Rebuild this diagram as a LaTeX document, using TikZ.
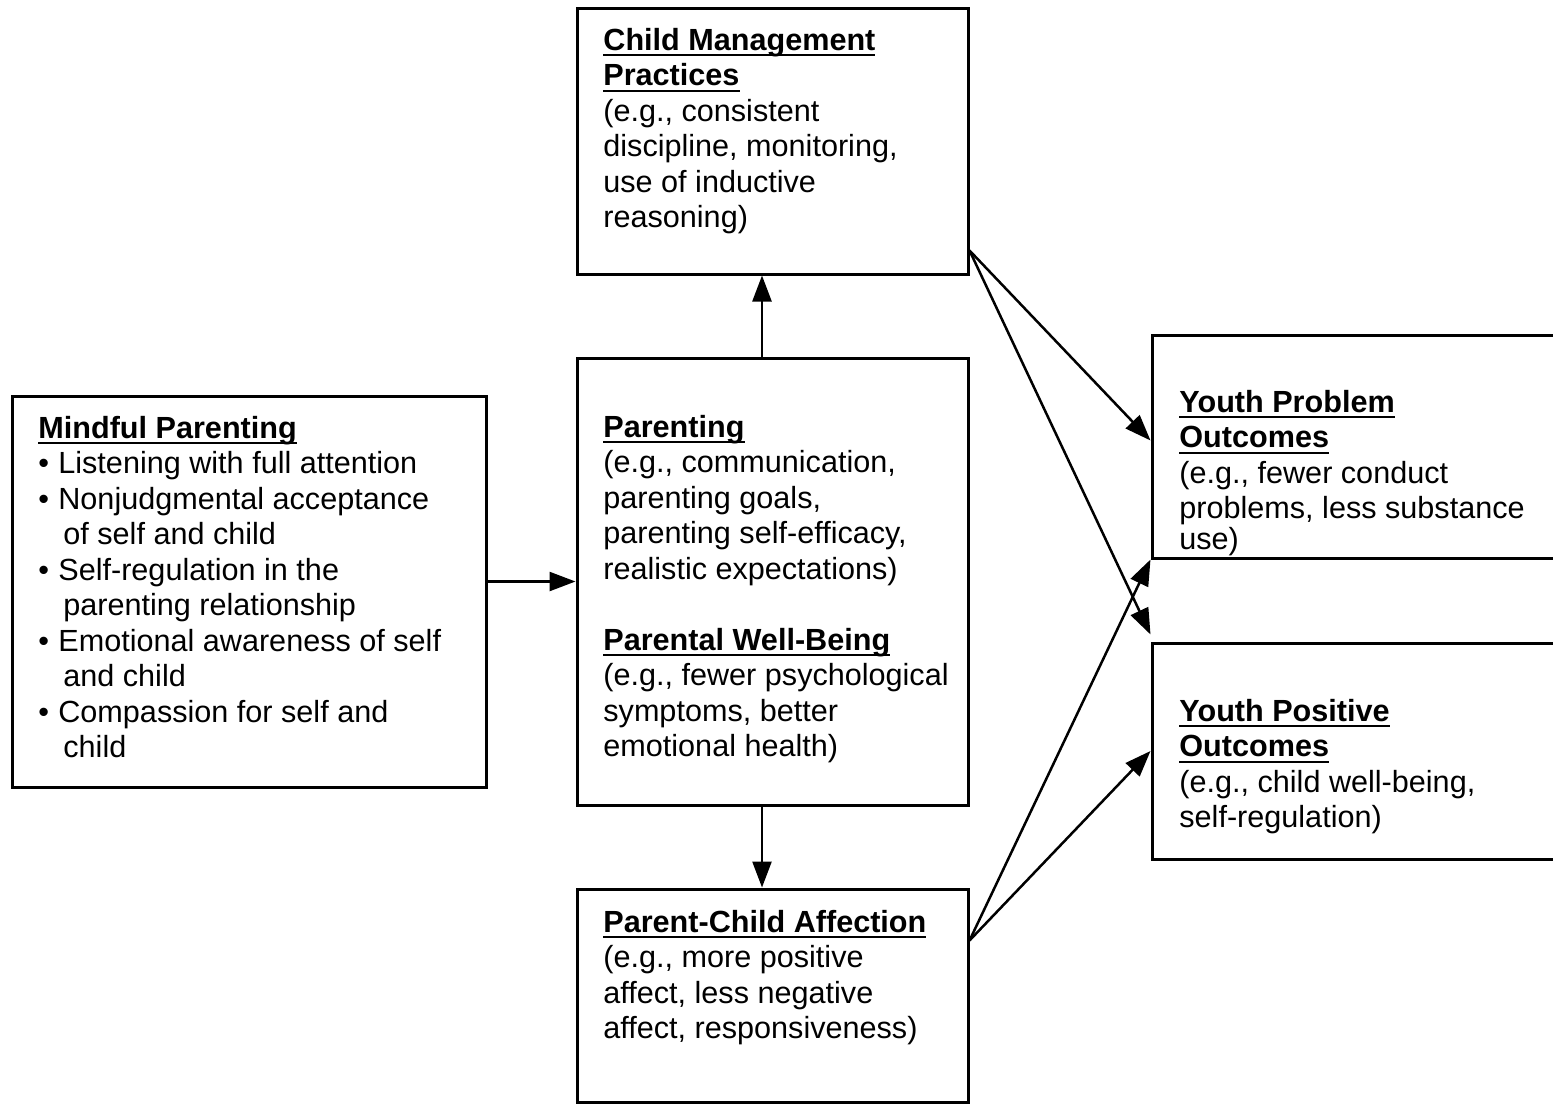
\documentclass[tikz,border=0pt]{standalone}
\usepackage{fontspec}
\setmainfont{Liberation Sans}
\usetikzlibrary{arrows.meta}
\newsavebox\ttlbox
\newcommand{\ttl}[1]{\sbox\ttlbox{\textbf{#1}}\usebox\ttlbox\llap{\rule[-3pt]{\wd\ttlbox}{0.9pt}}}
\newcommand{\bul}{\makebox[10pt][l]{\textbullet}}
\newcommand{\cont}{\hspace*{12.5pt}}
\begin{document}
\begin{tikzpicture}[x=0.5pt,y=-0.5pt,
  box/.style={draw, line width=1.5pt, rectangle, inner sep=0pt},
  txt/.style={anchor=base west, inner sep=0pt, font=\fontsize{15.3}{17.75}\selectfont},
  arr/.style={line width=1.25pt, -{Triangle[length=13pt,width=9.5pt]}}]
\useasboundingbox (0,0) rectangle (1553,1104);
\clip (0,0) rectangle (1553,1104);
% boxes
\node[box, minimum width=237pt, minimum height=195.5pt] (mp) at (249,591.5) {};
\node[box, minimum width=195.5pt, minimum height=223.5pt] (mid) at (772.5,581.5) {};
\node[box, minimum width=195.5pt, minimum height=133pt] (cmp) at (772.5,141) {};
\node[box, minimum width=195.5pt, minimum height=106.5pt] (pca) at (772.5,995.5) {};
\node[box, minimum width=224pt, minimum height=111.5pt] (ypr) at (1376,446.5) {};
\node[box, minimum width=224pt, minimum height=108pt] (ypo) at (1376,751) {};
% texts
\node[txt] (mpt) at (38,438) {\parbox[t]{230pt}{\ttl{Mindful Parenting}\\
\bul Listening with full attention\\
\bul Nonjudgmental acceptance\\
\cont of self and child\\
\bul Self-regulation in the\\
\cont parenting relationship\\
\bul Emotional awareness of self\\
\cont and child\\
\bul Compassion for self and\\
\cont child}};
\node[txt] (midt) at (603,437) {\parbox[t]{190pt}{\ttl{Parenting}\\
(e.g., communication,\\
parenting goals,\\
parenting self-efficacy,\\
realistic expectations)\\[17.75pt]
\ttl{Parental Well-Being}\\
(e.g., fewer psychological\\
symptoms, better\\
emotional health)}};
\node[txt] (cmpt) at (603,50) {\parbox[t]{190pt}{\ttl{Child Management}\\
\ttl{Practices}\\
(e.g., consistent\\
discipline, monitoring,\\
use of inductive\\
reasoning)}};
\node[txt] (pcat) at (603,932) {\parbox[t]{190pt}{\ttl{Parent-Child Affection}\\
(e.g., more positive\\
affect, less negative\\
affect, responsiveness)}};
\node[txt] (yprt) at (1179,412) {\parbox[t]{200pt}{\ttl{Youth Problem}\\
\ttl{Outcomes}\\
(e.g., fewer conduct\\
problems, less substance\\[-2.5pt]
use)}};
\node[txt] (ypot) at (1179,721) {\parbox[t]{200pt}{\ttl{Youth Positive}\\
\ttl{Outcomes}\\
(e.g., child well-being,\\
self-regulation)}};
% connectors
\coordinate (cmpout) at ([yshift=12.5pt]cmp.south east);
\coordinate (pcaout) at ([yshift=-26.5pt]pca.north east);
\draw[arr] (mp.east |- mid.west) -- (mid.west);
\draw[arr] ([xshift=-5.25pt]mid.north) -- ([xshift=-5.25pt]cmp.south);
\draw[arr] ([xshift=-5.25pt]mid.south) -- ([xshift=-5.25pt]pca.north);
\draw[arr] (cmpout) -- ([yshift=3pt]ypr.west);
\draw[arr] (cmpout) -- ([yshift=3.5pt]ypo.north west);
\draw[arr] (pcaout) -- (ypr.south west);
\draw[arr] (pcaout) -- (ypo.west);
\end{tikzpicture}
\end{document}
